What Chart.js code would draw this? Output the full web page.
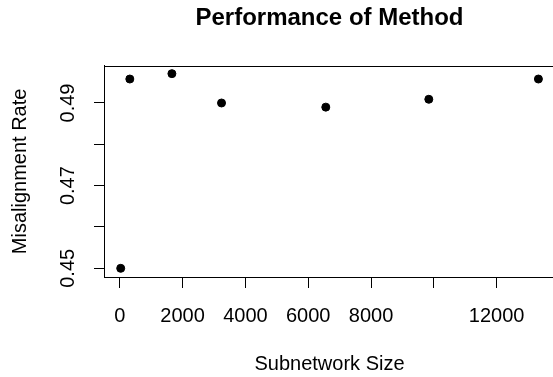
<!DOCTYPE html>
<html>
<head>
<meta charset="utf-8">
<script src="https://cdn.jsdelivr.net/npm/chart.js@4/dist/chart.umd.min.js"></script>
<style>
  html, body { margin: 0; padding: 0; background: #fff; overflow: hidden; }
  #wrap { width: 560px; height: 377px; }
</style>
</head>
<body>
<div id="wrap"><canvas id="perfChart" width="560" height="377"></canvas></div>
<script>
// Subnetwork size vs misalignment rate
const subnetSizes = [30, 320, 1660, 3240, 6560, 9840, 13330];
const misalignRates = [0.4500, 0.4958, 0.4971, 0.4900, 0.4890, 0.4909, 0.4958];

// Axis ticks, R style: some ticks have no label
const xTickValues = [0, 2000, 4000, 6000, 8000, 10000, 12000];
const xTickLabels = ['0', '2000', '4000', '6000', '8000', '', '12000'];
const yTickValues = [0.45, 0.46, 0.47, 0.48, 0.49];
const yTickLabels = ['0.45', '', '0.47', '', '0.49'];

const points = subnetSizes.map((s, i) => ({ x: s, y: misalignRates[i] }));

// Draws the box around the plot region like R's box()
const boxPlugin = {
    id: 'plotBox',
    afterDraw(chart) {
        const a = chart.chartArea;
        const ctx = chart.ctx;
        ctx.save();
        ctx.strokeStyle = '#000';
        ctx.lineWidth = 1;
        ctx.strokeRect(Math.round(a.left) + 0.5, Math.round(a.top) + 0.5,
            Math.round(a.right - a.left), Math.round(a.bottom - a.top));
        ctx.restore();
    }
};

function createChart() {
    const ctx = document.getElementById('perfChart').getContext('2d');
    new Chart(ctx, {
        type: 'scatter',
        data: {
            datasets: [{
                data: points,
                backgroundColor: '#000',
                borderColor: '#000',
                borderWidth: 1,
                pointRadius: 4,
                pointHoverRadius: 4
            }]
        },
        options: {
            responsive: false,
            animation: false,
            layout: { padding: 0 },
            plugins: {
                legend: { display: false },
                tooltip: { enabled: false },
                title: {
                    display: true,
                    text: 'Performance of Method',
                    fullSize: false,
                    color: '#000',
                    font: { family: 'Liberation Sans', size: 24, weight: 'bold', lineHeight: 1.2 },
                    padding: { top: 4, bottom: 33 }
                }
            },
            scales: {
                x: {
                    type: 'linear',
                    min: -502,
                    max: 13858,
                    afterBuildTicks: scale => {
                        scale.ticks = xTickValues.map(v => ({ value: v }));
                    },
                    afterFit: scale => {
                        scale.height = 100;
                        scale.paddingLeft = 0;
                        scale.paddingRight = 0;
                    },
                    grid: {
                        drawOnChartArea: false,
                        drawTicks: true,
                        tickLength: 11,
                        tickColor: '#000',
                        color: '#000'
                    },
                    border: { display: true, color: '#000', width: 1 },
                    ticks: {
                        autoSkip: false,
                        maxRotation: 0,
                        minRotation: 0,
                        padding: 16,
                        color: '#000',
                        font: { family: 'Liberation Sans', size: 20 },
                        callback: (value, index) => xTickLabels[index]
                    },
                    title: {
                        display: true,
                        text: 'Subnetwork Size',
                        color: '#000',
                        font: { family: 'Liberation Sans', size: 20, lineHeight: 1.2 },
                        padding: { top: 0, bottom: 1 }
                    }
                },
                y: {
                    type: 'linear',
                    min: 0.4479,
                    max: 0.4990,
                    afterBuildTicks: scale => {
                        scale.ticks = yTickValues.map(v => ({ value: v }));
                    },
                    afterFit: scale => {
                        scale.width = 104;
                        scale.paddingTop = 0;
                        scale.paddingBottom = 0;
                    },
                    grid: {
                        drawOnChartArea: false,
                        drawTicks: true,
                        tickLength: 10,
                        tickColor: '#000',
                        color: '#000'
                    },
                    border: { display: true, color: '#000', width: 1 },
                    ticks: {
                        autoSkip: false,
                        minRotation: 90,
                        maxRotation: 90,
                        crossAlign: 'center',
                        padding: 6,
                        color: '#000',
                        font: { family: 'Liberation Sans', size: 20 },
                        callback: (value, index) => yTickLabels[index]
                    },
                    title: {
                        display: true,
                        text: 'Misalignment Rate',
                        color: '#000',
                        font: { family: 'Liberation Sans', size: 20, lineHeight: 1.2 },
                        padding: { top: 8, bottom: 0 }
                    }
                }
            }
        },
        plugins: [boxPlugin]
    });
}

window.onload = createChart;
</script>
</body>
</html>
